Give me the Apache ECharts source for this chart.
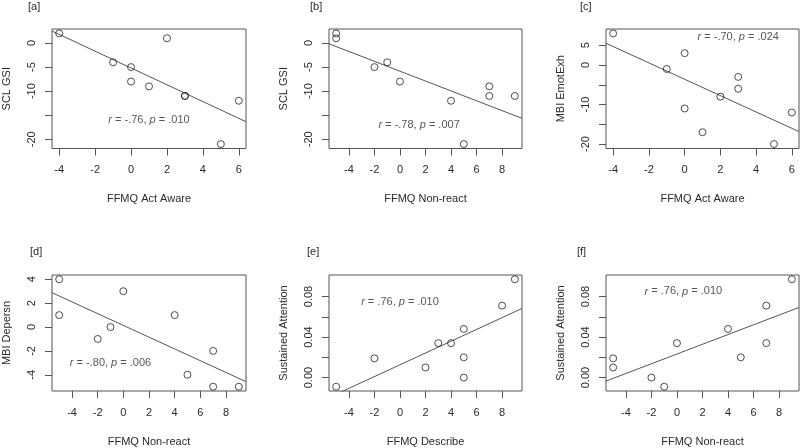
<!DOCTYPE html>
<html>
<head>
<meta charset="utf-8">
<script src="https://cdn.jsdelivr.net/npm/echarts@6/dist/echarts.min.js"></script>
<style>
html,body{margin:0;padding:0;background:#fff;}
#main{width:800px;height:448px;}
</style>
</head>
<body>
<div id="main"></div>
<script>
// ---- data ----
var actAware   = [-4, -1, 0, 0, 1, 2, 3, 3, 5, 6];
var sclByAct   = [2, -4, -5, -8, -9, 1, -11, -11, -21, -12];
var nonReact   = [-5, -5, -2, -1, 0, 4, 5, 7, 7, 9];
var sclByNR    = [2, 1, -5, -4, -8, -12, -21, -9, -11, -11];
var emotByAct  = [8, -1, 3, -11, -17, -8, -3, -6, -20, -12];
var depersnByNR = [4, 1, -1, 0, 3, 1, -4, -2, -5, -5];
var describe   = [-5, -2, 2, 3, 4, 5, 5, 5, 8, 9];
var attnByDesc = [-0.009, 0.019, 0.010, 0.034, 0.034, 0.048, 0.020, 0.000, 0.071, 0.097];
var attnByNR   = [0.019, 0.010, 0.000, -0.009, 0.034, 0.048, 0.020, 0.071, 0.034, 0.097];

var panelTags   = ['[a]', '[b]', '[c]', '[d]', '[e]', '[f]'];
var xNames      = ['FFMQ Act Aware', 'FFMQ Non-react', 'FFMQ Act Aware', 'FFMQ Non-react', 'FFMQ Describe', 'FFMQ Non-react'];
var yNames      = ['SCL GSI', 'SCL GSI', 'MBI EmotExh', 'MBI Depersn', 'Sustained Attention', 'Sustained Attention'];
var statTexts   = ['{i|r} = -.76, {i|p} = .010', '{i|r} = -.78, {i|p} = .007', '{i|r} = -.70, {i|p} = .024',
                   '{i|r} = -.80, {i|p} = .006', '{i|r} = .76, {i|p} = .010', '{i|r} = .76, {i|p} = .010'];
var statPos     = [[1, -16], [1.5, -17], [3, 7], [-1, -3], [0, 0.075], [0.5, 0.085]];

var xTicksAct   = [-4, -2, 0, 2, 4, 6];
var xTicksNR    = [-4, -2, 0, 2, 4, 6, 8];
var yTicksSCL   = [-20, -15, -10, -5, 0];
var yLabelsSCL  = [-20, -10, -5, 0];
var yTicksEmot  = [-20, -15, -10, -5, 0, 5];
var yLabelsEmot = [-20, -10, 0, 5];
var yTicksDep   = [-4, -2, 0, 2, 4];
var yTicksAttn  = [0, 0.02, 0.04, 0.06, 0.08];
var yLabelsAttn = [0, 0.04, 0.08];

var panels = [
  {x: actAware, y: sclByAct, xt: xTicksAct, xl: xTicksAct, yt: yTicksSCL, yl: yLabelsSCL, dec: 0},
  {x: nonReact, y: sclByNR, xt: xTicksNR, xl: xTicksNR, yt: yTicksSCL, yl: yLabelsSCL, dec: 0},
  {x: actAware, y: emotByAct, xt: xTicksAct, xl: xTicksAct, yt: yTicksEmot, yl: yLabelsEmot, dec: 0},
  {x: nonReact, y: depersnByNR, xt: xTicksNR, xl: xTicksNR, yt: yTicksDep, yl: yTicksDep, dec: 0},
  {x: describe, y: attnByDesc, xt: xTicksNR, xl: xTicksNR, yt: yTicksAttn, yl: yLabelsAttn, dec: 2},
  {x: nonReact, y: attnByNR, xt: xTicksNR, xl: xTicksNR, yt: yTicksAttn, yl: yLabelsAttn, dec: 2}
];

// ---- layout ----
var gridBoxes = [
  {left: 52, top: 29, width: 194, height: 119.5},
  {left: 329, top: 29, width: 193, height: 119.5},
  {left: 606, top: 29, width: 193, height: 119.5},
  {left: 52, top: 275, width: 194, height: 119},
  {left: 329, top: 275, width: 193, height: 119},
  {left: 606, top: 275, width: 193, height: 119}
];
var tagPos = [[28, 1], [310, 1], [580, 1], [30, 246], [307, 246], [577, 246]];

var FONT = 'Liberation Sans, Arial, Helvetica, sans-serif';
var TXT = '#2a2a2a';
var AX = '#555';

function padRange(arr) {
  var mn = Math.min.apply(null, arr), mx = Math.max.apply(null, arr);
  var d = (mx - mn) * 0.04;
  return [mn - d, mx + d];
}
function ols(xs, ys) {
  var n = xs.length, mx = 0, my = 0, sxy = 0, sxx = 0;
  for (var i = 0; i < n; i++) { mx += xs[i]; my += ys[i]; }
  mx /= n; my /= n;
  for (var j = 0; j < n; j++) { sxy += (xs[j] - mx) * (ys[j] - my); sxx += (xs[j] - mx) * (xs[j] - mx); }
  var b = sxy / sxx;
  return {a: my - b * mx, b: b};
}

var grids = [], xAxes = [], yAxes = [], series = [], titles = [];
panels.forEach(function (p, k) {
  var xr = padRange(p.x), yr = padRange(p.y);
  var g = gridBoxes[k];
  grids.push({left: g.left, top: g.top, width: g.width, height: g.height, show: true,
    borderColor: AX, borderWidth: 1, backgroundColor: 'transparent', containLabel: false});
  xAxes.push({
    type: 'value', gridIndex: k, min: xr[0], max: xr[1], position: 'bottom',
    name: xNames[k], nameLocation: 'middle', nameGap: 45,
    nameTextStyle: {fontFamily: FONT, fontSize: 11, color: TXT},
    axisLine: {show: false, onZero: false}, splitLine: {show: false},
    axisTick: {show: true, length: 7, inside: false, customValues: p.xt, lineStyle: {color: AX, width: 1}},
    axisLabel: {show: true, margin: 16, customValues: p.xl, fontFamily: FONT, fontSize: 11, color: TXT,
      formatter: function (v) { return String(v); }}
  });
  yAxes.push({
    type: 'value', gridIndex: k, min: yr[0], max: yr[1], position: 'left',
    name: yNames[k], nameLocation: 'middle', nameGap: 40,
    nameTextStyle: {fontFamily: FONT, fontSize: 11, color: TXT},
    axisLine: {show: false, onZero: false}, splitLine: {show: false},
    axisTick: {show: true, length: 7, inside: false, customValues: p.yt, lineStyle: {color: AX, width: 1}},
    axisLabel: {show: true, rotate: 90, margin: 15, customValues: p.yl, fontFamily: FONT, fontSize: 11, color: TXT,
      formatter: (function (dec) { return function (v) { return dec ? Number(v).toFixed(dec) : String(Math.round(v)); }; })(p.dec)}
  });
  var fit = ols(p.x, p.y);
  series.push({
    type: 'line', xAxisIndex: k, yAxisIndex: k, clip: true, symbol: 'none', silent: true,
    lineStyle: {color: AX, width: 1},
    data: [[xr[0], fit.a + fit.b * xr[0]], [xr[1], fit.a + fit.b * xr[1]]],
    z: 3
  });
  series.push({
    type: 'scatter', xAxisIndex: k, yAxisIndex: k, symbol: 'circle', symbolSize: 7,
    itemStyle: {color: 'transparent', borderColor: '#222', borderWidth: 1},
    data: p.x.map(function (xv, i) { return [xv, p.y[i]]; }),
    z: 4
  });
  series.push({
    type: 'scatter', xAxisIndex: k, yAxisIndex: k, symbolSize: 0, silent: true,
    data: [statPos[k]],
    label: {show: true, position: 'inside', formatter: statTexts[k], fontFamily: FONT, fontSize: 11, color: TXT,
      rich: {i: {fontStyle: 'italic', fontFamily: FONT, fontSize: 11, color: TXT}}},
    z: 5
  });
  titles.push({text: panelTags[k], left: tagPos[k][0], top: tagPos[k][1], padding: 0,
    textStyle: {fontFamily: FONT, fontSize: 11, fontWeight: 'normal', color: TXT}});
});

var chart = echarts.init(document.getElementById('main'), null, {renderer: 'canvas'});
chart.setOption({
  animation: false,
  backgroundColor: '#fff',
  title: titles,
  grid: grids,
  xAxis: xAxes,
  yAxis: yAxes,
  series: series
});
</script>
</body>
</html>
